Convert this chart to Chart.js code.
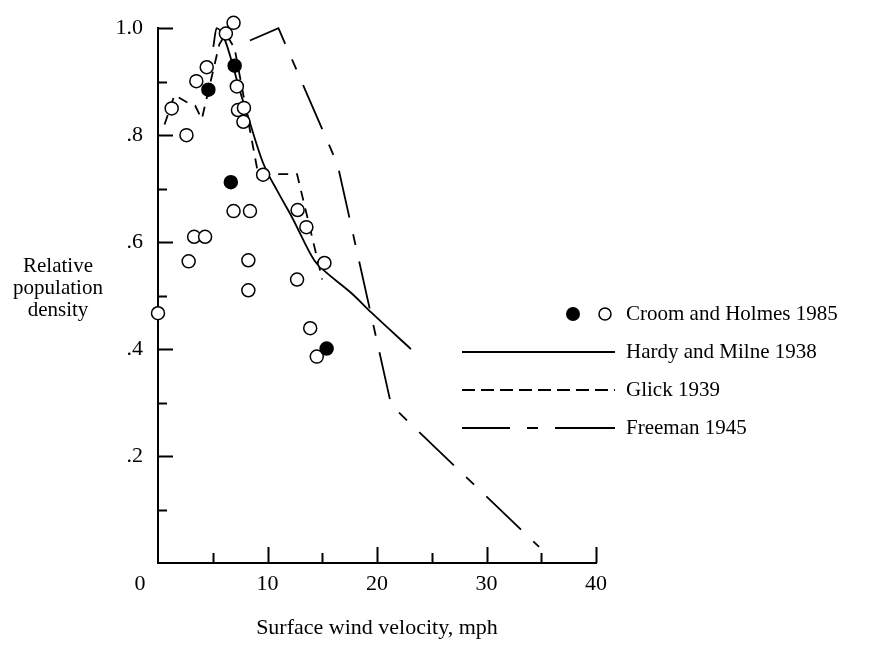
<!DOCTYPE html>
<html>
<head>
<meta charset="utf-8">
<script src="https://cdn.jsdelivr.net/npm/chart.js@4.4.1/dist/chart.umd.min.js"></script>
<style>
  html, body { margin: 0; padding: 0; background: #fff; }
</style>
</head>
<body>
<canvas id="myChart" width="870" height="645"></canvas>
<script>
// Croom and Holmes 1985 - open circles
const openX = [6.9, 6.2, 4.45, 3.5, 7.2, 1.25, 7.3, 7.85, 7.8, 2.6, 9.6, 6.9, 8.4, 12.75, 13.55, 3.3, 4.3, 2.8, 8.25, 15.2, 12.7, 8.25, 0.0, 13.9, 14.5];
const openY = [1.01, 0.99, 0.927, 0.901, 0.891, 0.85, 0.847, 0.851, 0.825, 0.80, 0.726, 0.658, 0.658, 0.66, 0.628, 0.61, 0.61, 0.564, 0.566, 0.561, 0.53, 0.51, 0.467, 0.439, 0.386];
// Croom and Holmes 1985 - filled circles
const filledX = [7.0, 4.6, 6.65, 15.4];
const filledY = [0.93, 0.885, 0.712, 0.401];

// Hardy and Milne 1938 (solid)
const hardyX = [5.05, 5.35, 7.8, 9.6, 11.0, 12.2, 14.3, 15.1, 17.7, 19.5, 23.1];
const hardyY = [0.965, 1.0, 0.862, 0.748, 0.692, 0.648, 0.565, 0.548, 0.504, 0.468, 0.40];

// Glick 1939 (short dashes)
const glickX = [0.6, 1.5, 2.6, 3.4, 4.0, 5.6, 6.2, 7.0, 9.15, 12.7, 15.0];
const glickY = [0.82, 0.875, 0.862, 0.855, 0.83, 0.97, 0.99, 0.962, 0.727, 0.727, 0.53];

// Freeman 1945 (long - short - long)
const freemanX = [8.4, 11.0, 16.4, 21.3, 34.8];
const freemanY = [0.977, 1.0, 0.745, 0.295, 0.03];

// 축 눈금 라벨
const xTickValues = [0, 10, 20, 30, 40];
const xTickLabels = ['0', '10', '20', '30', '40'];
const yTickValues = [0.2, 0.4, 0.6, 0.8, 1.0];
const yTickLabels = ['.2', '.4', '.6', '.8', '1.0'];

const xTitle = 'Surface wind velocity, mph';
const yTitleLines = ['Relative', 'population', 'density'];
const legendLabels = ['Croom and Holmes 1985', 'Hardy and Milne 1938', 'Glick 1939', 'Freeman 1945'];

const FONT = "'Liberation Serif', 'Times New Roman', serif";
const glickDash = [10, 8];
const freemanDash = [48, 17, 11, 17];

function toPoints(xs, ys) {
    return xs.map((x, i) => ({ x: x, y: ys[i] }));
}

// 안쪽 눈금, 축 제목, 범례 직접 그리기
const paperPlugin = {
    id: 'paper',
    afterDraw(chart) {
        const ctx = chart.ctx;
        const xs = chart.scales.x;
        const ys = chart.scales.y;
        ctx.save();
        ctx.strokeStyle = '#000';
        ctx.fillStyle = '#000';
        ctx.lineWidth = 2;

        // x축 눈금 (위쪽으로)
        xs.ticks.forEach(t => {
            if (t.value === 0) return;
            const px = Math.round(xs.getPixelForValue(t.value)) + 0.5;
            const len = t.value % 10 === 0 ? 16 : 10;
            ctx.beginPath();
            ctx.moveTo(px, xs.top);
            ctx.lineTo(px, xs.top - len);
            ctx.stroke();
        });

        // y축 눈금 (오른쪽으로)
        ys.ticks.forEach(t => {
            if (Math.abs(t.value) < 1e-6) return;
            const py = Math.round(ys.getPixelForValue(t.value)) + 0.5;
            const major = yTickValues.some(v => Math.abs(v - t.value) < 1e-6);
            const len = major ? 15 : 9;
            ctx.beginPath();
            ctx.moveTo(ys.right, py);
            ctx.lineTo(ys.right + len, py);
            ctx.stroke();
        });

        // "0" 라벨은 축 왼쪽으로 밀려 있음
        ctx.font = '22px ' + FONT;
        ctx.textAlign = 'center';
        ctx.textBaseline = 'middle';
        ctx.fillText(xTickLabels[0], xs.getPixelForValue(0) - 18, xs.top + 21);

        // y축 제목 (가로 3줄)
        ctx.font = '21px ' + FONT;
        yTitleLines.forEach((line, i) => {
            ctx.fillText(line, 58, 266 + i * 22);
        });

        // 범례
        const lx0 = 462, lx1 = 615, tx = 626;
        const rows = [314, 352, 390, 428];
        ctx.textAlign = 'left';
        ctx.fillText(legendLabels[0], tx, rows[0]);

        ctx.beginPath();
        ctx.arc(573, rows[0], 7, 0, Math.PI * 2);
        ctx.fill();
        ctx.lineWidth = 1.5;
        ctx.beginPath();
        ctx.arc(605, rows[0], 6, 0, Math.PI * 2);
        ctx.stroke();

        ctx.lineWidth = 1.8;
        const dashes = [[], [13, 6], [48, 17, 11, 17, 60]];
        dashes.forEach((d, i) => {
            const y = rows[i + 1];
            ctx.setLineDash(d);
            ctx.beginPath();
            ctx.moveTo(lx0, y);
            ctx.lineTo(lx1, y);
            ctx.stroke();
            ctx.setLineDash([]);
            ctx.fillText(legendLabels[i + 1], tx, y);
        });

        ctx.restore();
    }
};

const ctx = document.getElementById('myChart').getContext('2d');

new Chart(ctx, {
    type: 'scatter',
    data: {
        datasets: [
            {
                label: legendLabels[0] + ' filled',
                data: toPoints(filledX, filledY),
                pointStyle: 'circle',
                pointRadius: 6.5,
                pointBackgroundColor: '#000',
                pointBorderColor: '#000',
                pointBorderWidth: 1.5,
                clip: false,
                order: 0
            },
            {
                label: legendLabels[0] + ' open',
                data: toPoints(openX, openY),
                pointStyle: 'circle',
                pointRadius: 6.5,
                pointBackgroundColor: '#fff',
                pointBorderColor: '#000',
                pointBorderWidth: 1.5,
                clip: false,
                order: 1
            },
            {
                label: legendLabels[1],
                data: toPoints(hardyX, hardyY),
                showLine: true,
                pointRadius: 0,
                borderColor: '#000',
                borderWidth: 1.8,
                cubicInterpolationMode: 'monotone',
                clip: false,
                order: 2
            },
            {
                label: legendLabels[2],
                data: toPoints(glickX, glickY),
                showLine: true,
                pointRadius: 0,
                borderColor: '#000',
                borderWidth: 1.8,
                borderDash: glickDash,
                tension: 0,
                clip: false,
                order: 3
            },
            {
                label: legendLabels[3],
                data: toPoints(freemanX, freemanY),
                showLine: true,
                pointRadius: 0,
                borderColor: '#000',
                borderWidth: 1.8,
                borderDash: freemanDash,
                tension: 0,
                clip: false,
                order: 4
            }
        ]
    },
    options: {
        responsive: false,
        animation: false,
        layout: { padding: { top: 19, right: 274, bottom: 0, left: 0 } },
        scales: {
            x: {
                type: 'linear',
                min: 0,
                max: 40,
                afterFit: s => { s.height = 82; },
                grid: { display: false, drawTicks: false },
                border: { display: true, color: '#000', width: 2 },
                ticks: {
                    stepSize: 5,
                    autoSkip: false,
                    maxRotation: 0,
                    padding: 8,
                    color: '#000',
                    font: { family: FONT, size: 22 },
                    callback: v => {
                        const i = xTickValues.indexOf(v);
                        return i > 0 ? xTickLabels[i] : '';
                    }
                },
                title: {
                    display: true,
                    text: xTitle,
                    color: '#000',
                    font: { family: FONT, size: 22 },
                    padding: { top: 0, bottom: 4 }
                }
            },
            y: {
                type: 'linear',
                min: 0,
                max: 1,
                afterFit: s => { s.width = 158; },
                grid: { display: false, drawTicks: false },
                border: { display: true, color: '#000', width: 2 },
                ticks: {
                    stepSize: 0.1,
                    autoSkip: false,
                    padding: 15,
                    color: '#000',
                    font: { family: FONT, size: 22 },
                    callback: v => {
                        const i = yTickValues.findIndex(t => Math.abs(t - v) < 1e-6);
                        return i >= 0 ? yTickLabels[i] : '';
                    }
                }
            }
        },
        plugins: {
            legend: { display: false },
            tooltip: { enabled: false }
        }
    },
    plugins: [paperPlugin]
});
</script>
</body>
</html>
